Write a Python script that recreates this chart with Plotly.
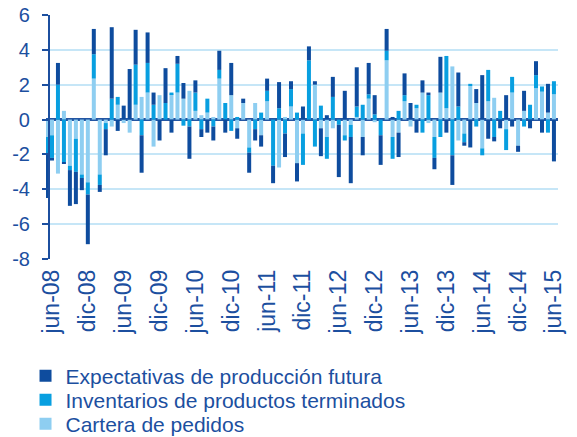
import plotly.graph_objects as go

# Monthly categories: may-08 .. jun-15 (86 months)
mes_abbr = ["ene", "feb", "mar", "abr", "may", "jun", "jul", "ago", "sep", "oct", "nov", "dic"]
categorias = []
for anio in range(8, 16):
    for m, ab in enumerate(mes_abbr):
        if (anio == 8 and m < 4) or (anio == 15 and m > 5):
            continue
        categorias.append(f"{ab}-{anio:02d}")

tick_labels = ["jun-08", "dic-08", "jun-09", "dic-09", "jun-10", "dic-10", "jun-11", "dic-11",
               "jun-12", "dic-12", "jun-13", "dic-13", "jun-14", "dic-14", "jun-15"]
y_ticks = [-8, -6, -4, -2, 0, 2, 4, 6]
y_tick_text = ["-8", "-6", "-4", "-2", "0", "2", "4", "6"]

cartera = [
    -1.0, -0.9, -3.1, 0.5, -2.65, -1.1, -3.15, -3.6, 2.35, -3.15,
    -0.2, -0.4, 0.85, -0.2, -0.75, 0.85, 1.3, 1.55, -1.55, 1.4,
    0.0, 1.45, 1.55, 1.2, 1.65, 0.5, 0.25, 0.4, 0.15, 2.35,
    0.0, 1.4, -0.5, 0.95, -1.6, 0.95, -0.9, 1.05, 0.0, -2.75,
    0.15, 0.75, -2.5, -0.8, 0.0, 2.0, -0.5, -1.0, -0.5, 0.0,
    -0.9, -0.3, 0.15, -1.0, 1.2, -0.15, 0.0, 3.4, -1.0, -0.75,
    1.05, -0.4, 0.65, 1.55, -0.2, -1.0, 1.55, 0.65, 3.05, -1.2,
    -0.8, 1.95, 0.95, -1.65, 1.05, 1.25, 0.0, -0.55, 1.55, -1.5,
    0.5, 0.0, 1.8, 1.6, 0.4, 1.45,
]
inventarios = [
    -1.0, -1.3, 2.0, -2.45, -0.25, -1.9, -0.2, -0.7, 1.4, -0.6,
    -0.35, 1.2, 0.45, 0.0, 0.0, 2.3, -0.9, 1.7, 0.85, 0.0,
    0.95, 0.1, 1.65, -0.35, -0.4, 1.05, -0.55, 0.8, -0.4, 0.5,
    0.95, -0.65, 0.15, 0.0, -0.3, -0.55, 0.4, 0.6, -2.65, 0.65,
    -0.8, 1.0, 0.4, -1.8, 3.4, -1.55, 0.8, -1.25, 1.3, -0.3,
    -0.3, -0.7, 0.6, 0.85, 0.25, 0.3, -0.9, 0.55, -1.25, 0.5,
    0.35, 0.0, 0.2, -0.75, 1.4, -1.2, -1.0, 3.0, -2.05, 0.75,
    -0.5, 0.1, -0.4, -0.4, 1.8, -1.0, 0.5, -1.2, 0.9, 0.0,
    -0.4, 0.85, 0.75, 0.3, -0.75, 0.75,
]
expectativas = [
    -2.5, -0.15, 1.25, -0.1, -2.05, -1.85, -0.7, -2.85, 1.45, -0.4,
    -1.5, 4.1, -0.65, 0.8, 2.9, 2.0, -2.15, 1.75, 0.7, -1.2,
    2.0, -0.75, 0.45, 0.9, -1.85, 0.7, -0.45, -0.75, -0.8, 1.1,
    -0.75, 1.85, -0.6, 0.25, -1.15, -0.65, -0.65, 0.7, -1.0, 1.5,
    -1.35, 0.45, -1.05, 0.75, 0.8, 0.2, -1.6, 0.25, 1.15, -3.0,
    1.65, -2.65, 2.25, -1.05, 1.8, 1.1, -1.7, 1.25, 0.15, -1.4,
    1.25, 0.95, -0.75, 0.7, 0.15, -0.65, 2.05, -0.75, -1.7, 1.95,
    -0.2, -1.6, 0.8, 2.55, -1.1, -0.25, -0.5, 1.4, -0.4, -0.35,
    1.15, -0.5, 0.8, -0.75, 1.65, -2.4,
]

col_dark = "#0E4C9E"
col_mid = "#089FE0"
col_light = "#8ECEF1"
txt = "#1C4F9F"
grid = "#C6E6F7"

fig = go.Figure()
fig.add_trace(go.Bar(x=categorias, y=cartera, name="Cartera de pedidos", legend="legend3",
                     marker=dict(color=col_light, line=dict(width=0))))
fig.add_trace(go.Bar(x=categorias, y=inventarios, name="Inventarios de productos terminados",
                     legend="legend2", marker=dict(color=col_mid, line=dict(width=0))))
fig.add_trace(go.Bar(x=categorias, y=expectativas, name="Expectativas de producción futura",
                     legend="legend", marker=dict(color=col_dark, line=dict(width=0))))

leg_common = dict(x=-0.040, xanchor="left", yanchor="middle",
                  font=dict(size=21, color=txt), bgcolor="rgba(0,0,0,0)",
                  itemclick=False, itemdoubleclick=False)

fig.update_layout(
    width=577, height=437,
    margin=dict(l=46, r=19, t=15, b=178, autoexpand=False),
    barmode="relative",
    bargap=0.33,
    plot_bgcolor="white", paper_bgcolor="white",
    font=dict(family="Liberation Sans, Arial, sans-serif", color=txt),
    showlegend=True,
    legend=dict(y=-0.4795, **leg_common),
    legend2=dict(y=-0.5779, **leg_common),
    legend3=dict(y=-0.6762, **leg_common),
)

fig.update_xaxes(
    type="category",
    range=[0, 85.68],
    tickmode="array",
    tickvals=tick_labels,
    ticktext=tick_labels,
    tickangle=-90,
    tickfont=dict(size=23, color=txt),
    ticklabelstandoff=5,
    showgrid=False, showline=False, ticks="", zeroline=False,
    automargin=False,
)

fig.update_yaxes(
    range=[-8, 6],
    tickmode="array",
    tickvals=y_ticks,
    ticktext=y_tick_text,
    anchor="free",
    position=0.0053,
    showline=True, linecolor=txt, linewidth=1.5,
    ticks="outside", ticklen=6, tickwidth=1.5, tickcolor=txt,
    tickfont=dict(size=20, color=txt),
    ticklabelstandoff=8,
    showgrid=True, gridcolor=grid, gridwidth=2,
    zeroline=True, zerolinecolor="#2356A3", zerolinewidth=2.5,
    automargin=False,
)

fig.write_html(
    "out.html",
    config={"displayModeBar": False},
    post_script="document.body.style.margin='0';document.body.style.overflow='hidden';",
)
